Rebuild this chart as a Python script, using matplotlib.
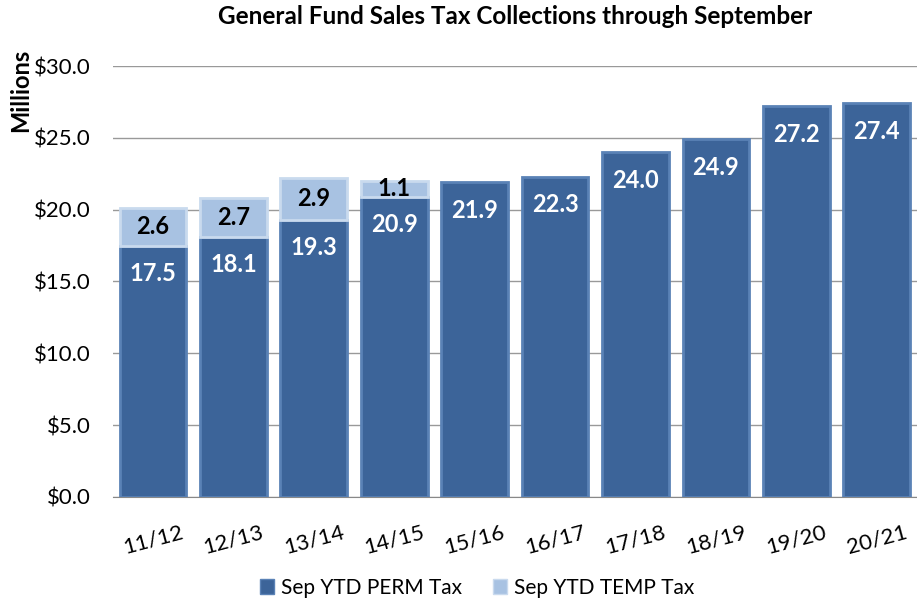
import numpy as np
import matplotlib.pyplot as plt
from matplotlib.patches import Patch

years = ['11/12', '12/13', '13/14', '14/15', '15/16', '16/17', '17/18', '18/19', '19/20', '20/21']
perm = [17.5, 18.1, 19.3, 20.9, 21.9, 22.3, 24.0, 24.9, 27.2, 27.4]
temp = [2.6, 2.7, 2.9, 1.1, 0, 0, 0, 0, 0, 0]

plt.rcParams['font.family'] = ['Lato', 'DejaVu Sans']

fig = plt.figure(figsize=(9.17, 6.03), dpi=100)
ax = fig.add_axes([0.123, 0.176, 0.877, 0.7145])

x = np.arange(len(years))
c_perm = '#3C6499'
c_temp = '#A8C2E2'

b1 = ax.bar(x, perm, width=0.83, color=c_perm, edgecolor='#5A82B6', linewidth=2, zorder=3)
b2 = ax.bar(x, temp, width=0.83, bottom=perm, color=c_temp, edgecolor='#C9DAEE', linewidth=2, zorder=3)
for i in range(len(years)):
    if temp[i] == 0:
        b2[i].set_visible(False)

for i in range(len(years)):
    ax.text(x[i], perm[i] - 1.95, '%.1f' % perm[i], ha='center', va='center',
            color='white', fontsize=17, fontweight='bold', zorder=4)
    if temp[i] > 0:
        ax.text(x[i], perm[i] + temp[i] / 2, '%.1f' % temp[i], ha='center', va='center',
                color='black', fontsize=17, fontweight='bold', zorder=4)

ax.set_xlim(-0.5, 9.5)
ax.set_ylim(0, 30)
ax.set_yticks(np.arange(0, 30.1, 5))
ax.set_yticklabels(['$%.1f' % v for v in np.arange(0, 30.1, 5)], fontsize=16)
ax.set_xticks(x)
ax.set_xticklabels(years, rotation=15, fontsize=16)
ax.tick_params(axis='x', length=0, pad=18)
ax.tick_params(axis='y', length=0, pad=16)
ax.yaxis.grid(True, color='#999999', linewidth=1, zorder=0)

for s in ['top', 'right', 'left']:
    ax.spines[s].set_visible(False)
ax.spines['bottom'].set_color('#888888')

ax.set_title('General Fund Sales Tax Collections through September',
             fontsize=17.5, fontweight='bold', pad=30)
fig.text(0.022, 0.85, 'Millions', rotation=90, fontsize=17, fontweight='bold',
         ha='center', va='center')

handles = [Patch(facecolor=c_perm, edgecolor='#5A82B6'),
           Patch(facecolor=c_temp, edgecolor='#C9DAEE')]
fig.legend(handles, ['Sep YTD PERM Tax', 'Sep YTD TEMP Tax'], loc='center',
           bbox_to_anchor=(0.52, 0.025), ncol=2, frameon=False, fontsize=15,
           handlelength=0.7, handleheight=0.7, handletextpad=0.3, columnspacing=1.5)

fig.savefig('out.png', dpi=100)
